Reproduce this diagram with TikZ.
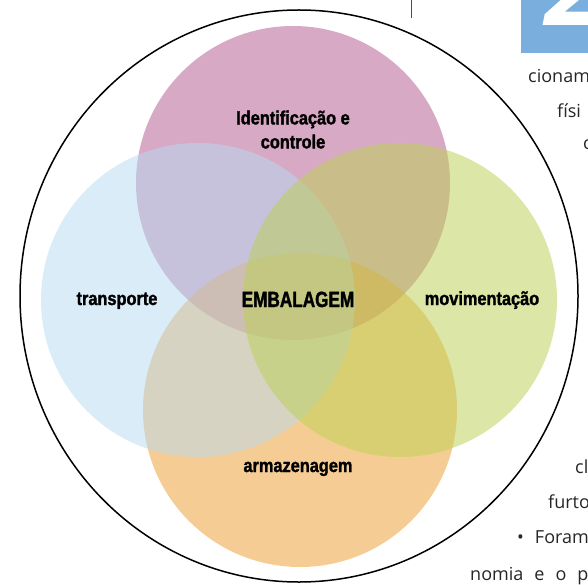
\documentclass[tikz,border=0pt]{standalone}
\usepackage{fontspec}
\setmainfont{Open Sans}
\newfontfamily\vennfont[FakeStretch=0.86,FakeBold=1.5]{Liberation Sans}
\newfontfamily\corefont[FakeStretch=0.78,FakeBold=1.5]{Liberation Sans}
\newcommand\pagefont{\fontsize{18}{20}\selectfont\spaceskip=11pt\relax}
\usepackage{xcolor}
\usepackage{tikz}
\usetikzlibrary{positioning}
\definecolor{idcol}{RGB}{179,85,141}
\definecolor{trcol}{RGB}{183,219,241}
\definecolor{mvcol}{RGB}{187,209,81}
\definecolor{arcol}{RGB}{239,155,45}
\definecolor{boxblue}{RGB}{122,174,221}

\begin{document}
\begin{tikzpicture}[x=1pt, y=-1pt,
  venn/.style={circle, minimum size=314pt, inner sep=0pt, fill opacity=0.5},
  area/.style={font=\vennfont\bfseries\fontsize{19}{24}\selectfont, inner sep=0pt, anchor=base},
  page/.style={font=\pagefont, text=black!85, inner sep=0pt, anchor=base west}]
\useasboundingbox (0,0) rectangle (588,585);
\clip (0,0) rectangle (588,585);
\fill[white] (0,0) rectangle (588,585);

% page around the figure
\draw[black!70, line width=0.8pt] (411,0) -- (411,18);
\fill[boxblue] (521,0) rectangle (588,53);
\node[inner sep=0pt, anchor=base west, text=white, font=\fontsize{105}{105}\selectfont\bfseries\itshape] (num) at (545,26) {2};
\node[page] (l1) at (528,83) {cionam};
\node[page] (l2) at (557,118) {físi};
\node[page] (l3) at (583,150) {c};
\node[page] (l4) at (575,473) {cl};
\node[page] (l5) at (548,508) {furto};
\node[page] (l6) at (517,543) {\textbullet\ Foram};
\node[page] (l7) at (470,580) {nomia e o p};

% outer ring
\draw[line width=1.5pt] (299,296) ellipse [x radius=279pt, y radius=286pt];

% the four areas
\node[venn, fill=idcol] (idc) at (293,183) {};
\node[venn, fill=arcol] (arc) at (300,410) {};
\node[venn, fill=trcol] (trc) at (198,300) {};
\node[venn, fill=mvcol] (mvc) at (400,300) {};

\node[area, anchor=center, align=center] (ident) at (293,129.6) {Identificação e\\controle};
\node[area] (transp) at (117,305) {transporte};
\node[area] (movim) at (482,305) {movimentação};
\node[area] (armaz) at (298,472) {armazenagem};
\node[inner sep=0pt, anchor=base, font=\corefont\bfseries\fontsize{22}{24}\selectfont] (emb) at (298,307) {EMBALAGEM};
\end{tikzpicture}
\end{document}
